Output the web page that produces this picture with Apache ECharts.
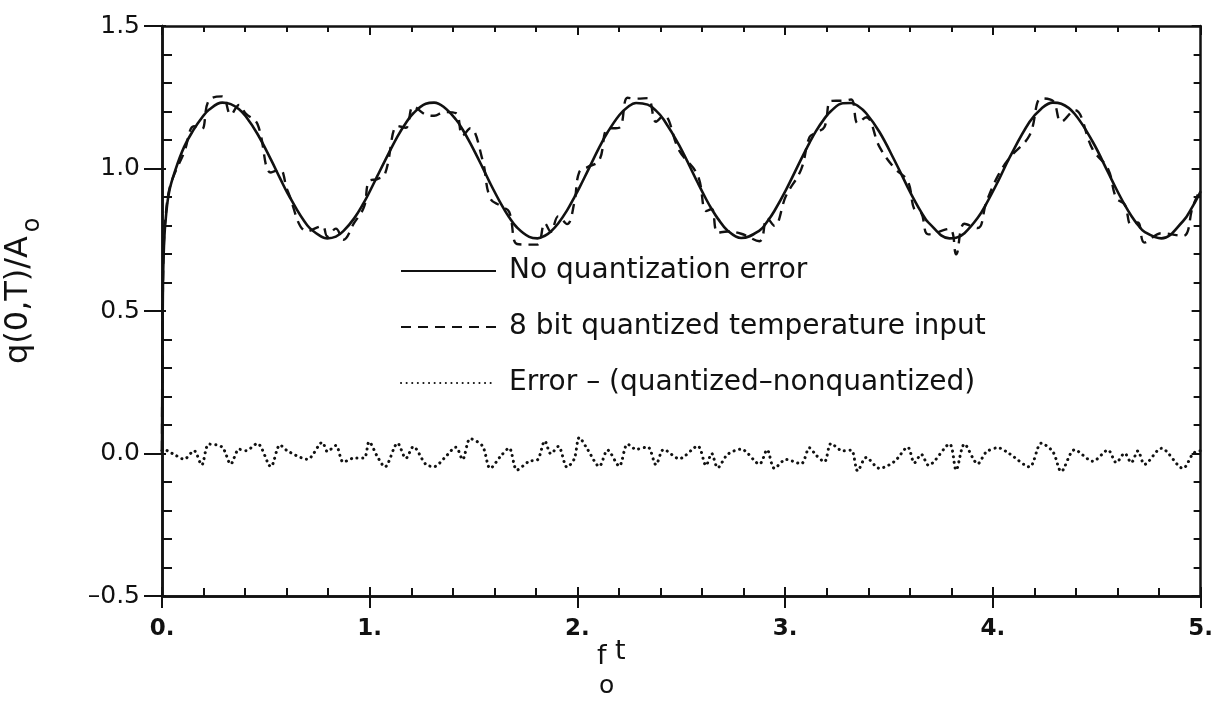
<!DOCTYPE html>
<html>
<head>
<meta charset="utf-8">
<script src="https://cdn.jsdelivr.net/npm/echarts@6/dist/echarts.min.js"></script>
<style>
  html, body { margin: 0; padding: 0; background: #ffffff; }
  #chart { width: 1216px; height: 718px; }
</style>
</head>
<body>
<div id="chart"></div>
<script>
// Dimensionless time f_o t at which the heat flux was sampled
const t = [
  0, 0.004, 0.01, 0.02, 0.035, 0.06, 0.106, 0.154, 0.191, 0.226, 0.29, 0.331, 0.371, 0.403,
  0.459, 0.524, 0.568, 0.604, 0.70, 0.772, 0.796, 0.837, 0.873, 0.925, 0.973, 0.997,
  1.037, 1.073, 1.134, 1.174, 1.21, 1.27, 1.31, 1.358, 1.415, 1.447, 1.484, 1.543, 1.58,
  1.632, 1.671, 1.709, 1.768, 1.808, 1.843, 1.872, 1.908, 1.95, 1.985,
  2.009, 2.049, 2.105, 2.145, 2.201, 2.241, 2.282, 2.338, 2.378, 2.415, 2.49, 2.579,
  2.619, 2.646, 2.675, 2.723, 2.788, 2.876, 2.913, 2.948,
  3.004, 3.077, 3.117, 3.149, 3.189, 3.221, 3.277, 3.318, 3.349, 3.39, 3.454, 3.526,
  3.59, 3.622, 3.655, 3.69, 3.791, 3.823, 3.863, 3.927, 3.968,
  4.024, 4.08, 4.176, 4.233, 4.289, 4.329, 4.393, 4.481, 4.554, 4.594, 4.634, 4.666,
  4.698, 4.73, 4.811, 4.915, 4.963, 4.995, 5.0
];

// Surface heat flux q(0,T)/A_o with an exact temperature input
const noQuant = [
  0.000, 0.550, 0.740, 0.840, 0.920, 0.985, 1.075, 1.138, 1.177, 1.206, 1.231, 1.226, 1.208, 1.183,
  1.122, 1.032, 0.966, 0.914, 0.800, 0.759, 0.755, 0.761, 0.780, 0.825, 0.882, 0.915,
  0.974, 1.027, 1.113, 1.160, 1.194, 1.227, 1.231, 1.215, 1.172, 1.137, 1.089, 1.004, 0.948,
  0.876, 0.829, 0.793, 0.760, 0.755, 0.764, 0.779, 0.808, 0.853, 0.899,
  0.932, 0.991, 1.074, 1.127, 1.187, 1.215, 1.230, 1.224, 1.203, 1.172, 1.081, 0.950,
  0.893, 0.858, 0.825, 0.782, 0.756, 0.782, 0.813, 0.851,
  0.925, 1.033, 1.090, 1.132, 1.175, 1.202, 1.229, 1.230, 1.220, 1.194, 1.128, 1.029,
  0.934, 0.889, 0.847, 0.810, 0.755, 0.757, 0.773, 0.827, 0.876,
  0.954, 1.038, 1.163, 1.210, 1.231, 1.227, 1.192, 1.093, 0.987, 0.928, 0.873, 0.834,
  0.802, 0.778, 0.755, 0.815, 0.869, 0.912, 0.920
];

// Difference between the 8 bit quantized and the exact result
const quantError = [
  0.010, 0.012, 0.014, 0.012, 0.006, -0.004, -0.020, 0.010, -0.040, 0.033, 0.022, -0.037, 0.015, 0.010,
  0.035, -0.046, 0.030, 0.009, -0.020, 0.039, 0.007, 0.028, -0.030, -0.016, -0.016, 0.041,
  -0.011, -0.047, 0.036, -0.017, 0.024, -0.038, -0.046, -0.017, 0.022, -0.021, 0.052, 0.026, -0.052,
  -0.008, 0.019, -0.058, -0.027, -0.022, 0.044, -0.001, 0.025, -0.048, -0.018,
  0.056, 0.014, -0.045, 0.012, -0.044, 0.033, 0.015, 0.023, -0.039, 0.014, -0.018, 0.026,
  -0.042, 0.000, -0.050, -0.003, 0.015, -0.037, 0.013, -0.052,
  -0.021, -0.036, 0.020, -0.006, -0.029, 0.035, 0.009, 0.012, -0.061, -0.014, -0.052, -0.028,
  0.022, -0.033, -0.003, -0.041, 0.033, -0.058, 0.033, -0.036, 0.005,
  0.020, -0.001, -0.047, 0.036, 0.006, -0.063, 0.013, -0.027, 0.012, -0.032, 0.001, -0.032,
  0.009, -0.038, 0.018, -0.052, -0.001, 0.010, 0.010
];

const seriesNames = [
  'No quantization error',
  '8 bit quantized temperature input',
  'Error – (quantized–nonquantized)'
];
const xTickLabels = ['0.', '1.', '2.', '3.', '4.', '5.'];
const yTickLabels = ['–0.5', '0.0', '0.5', '1.0', '1.5'];

const FONT = 'DejaVu Sans';
const INK = '#111111';

const exactPts = t.map((x, i) => [x, noQuant[i]]);
const quantPts = t.map((x, i) => [x, +(noQuant[i] + quantError[i]).toFixed(3)]);
const errorPts = t.map((x, i) => [x, quantError[i]]);

const frameLine = { show: true, onZero: false, lineStyle: { color: INK, width: 2.5 } };
const tickLine = { color: INK, width: 2 };
const xRange = { type: 'value', min: 0, max: 5, interval: 1, splitLine: { show: false } };
const yRange = { type: 'value', min: -0.5, max: 1.5, interval: 0.5, splitLine: { show: false } };

const chart = echarts.init(document.getElementById('chart'));
chart.setOption({
  animation: false,
  backgroundColor: '#ffffff',
  grid: { left: 162, right: 12, top: 26, bottom: 122, containLabel: false },
  xAxis: [
    {
      ...xRange, position: 'bottom', axisLine: frameLine,
      axisTick: { show: true, inside: false, length: 12, lineStyle: tickLine },
      axisLabel: {
        formatter: v => xTickLabels[Math.round(v)],
        fontFamily: FONT, fontSize: 23, fontWeight: 'bold', color: INK, margin: 22
      }
    },
    {
      ...xRange, position: 'bottom', axisLine: frameLine,
      axisTick: { show: true, inside: true, length: 9, lineStyle: tickLine },
      minorTick: { show: true, splitNumber: 5, length: 8, lineStyle: tickLine },
      axisLabel: { show: false }
    },
    {
      ...xRange, position: 'top', axisLine: frameLine,
      axisTick: { show: true, inside: true, length: 9, lineStyle: tickLine },
      minorTick: { show: true, splitNumber: 5, length: 6, lineStyle: tickLine },
      axisLabel: { show: false }
    }
  ],
  yAxis: [
    {
      ...yRange, position: 'left', axisLine: frameLine,
      axisTick: { show: true, inside: false, length: 18, lineStyle: tickLine },
      axisLabel: {
        formatter: v => yTickLabels[Math.round((v + 0.5) / 0.5)],
        fontFamily: FONT, fontSize: 25, color: INK, margin: 22
      }
    },
    {
      ...yRange, position: 'left', axisLine: frameLine,
      axisTick: { show: true, inside: true, length: 4, lineStyle: tickLine },
      minorTick: { show: true, splitNumber: 5, length: 10, lineStyle: tickLine },
      axisLabel: { show: false }
    },
    {
      ...yRange, position: 'right', axisLine: frameLine,
      axisTick: { show: true, inside: true, length: 9, lineStyle: tickLine },
      minorTick: { show: true, splitNumber: 5, length: 7, lineStyle: tickLine },
      axisLabel: { show: false }
    }
  ],
  legend: {
    orient: 'vertical', left: 395, top: 251,
    itemWidth: 95, itemHeight: 20, itemGap: 26,
    itemStyle: { opacity: 0 },
    textStyle: { fontFamily: FONT, fontSize: 28, color: INK, lineHeight: 30, padding: [0, 0, 0, 8] },
    data: seriesNames
  },
  series: [
    {
      name: seriesNames[0], type: 'line', data: exactPts, symbol: 'none',
      smooth: 0.4, z: 3,
      lineStyle: { color: INK, width: 2.6 }, itemStyle: { color: INK }
    },
    {
      name: seriesNames[1], type: 'line', data: quantPts, symbol: 'none',
      smooth: 0.4, z: 4,
      lineStyle: { color: INK, width: 2.4, type: [10, 7] }, itemStyle: { color: INK }
    },
    {
      name: seriesNames[2], type: 'line', data: errorPts, symbol: 'none',
      smooth: 0.3, z: 4,
      lineStyle: { color: INK, width: 3, type: [0.1, 5.5], cap: 'round' }, itemStyle: { color: INK }
    }
  ],
  graphic: [
    {
      type: 'text', x: 19, y: 300, rotation: Math.PI / 2,
      style: { text: 'q(0,T)/A', fontFamily: FONT, fontSize: 32, fill: INK, align: 'center', verticalAlign: 'middle' }
    },
    {
      type: 'text', x: 33, y: 225, rotation: Math.PI / 2,
      style: { text: 'o', fontFamily: FONT, fontSize: 24, fill: INK, align: 'center', verticalAlign: 'middle' }
    },
    {
      type: 'text', x: 597, y: 657,
      style: { text: 'f', fontFamily: FONT, fontSize: 27, fill: INK, align: 'left', verticalAlign: 'middle' }
    },
    {
      type: 'text', x: 599, y: 686,
      style: { text: 'o', fontFamily: FONT, fontSize: 25, fill: INK, align: 'left', verticalAlign: 'middle' }
    },
    {
      type: 'text', x: 615, y: 652,
      style: { text: 't', fontFamily: FONT, fontSize: 27, fill: INK, align: 'left', verticalAlign: 'middle' }
    }
  ]
});
</script>
</body>
</html>
